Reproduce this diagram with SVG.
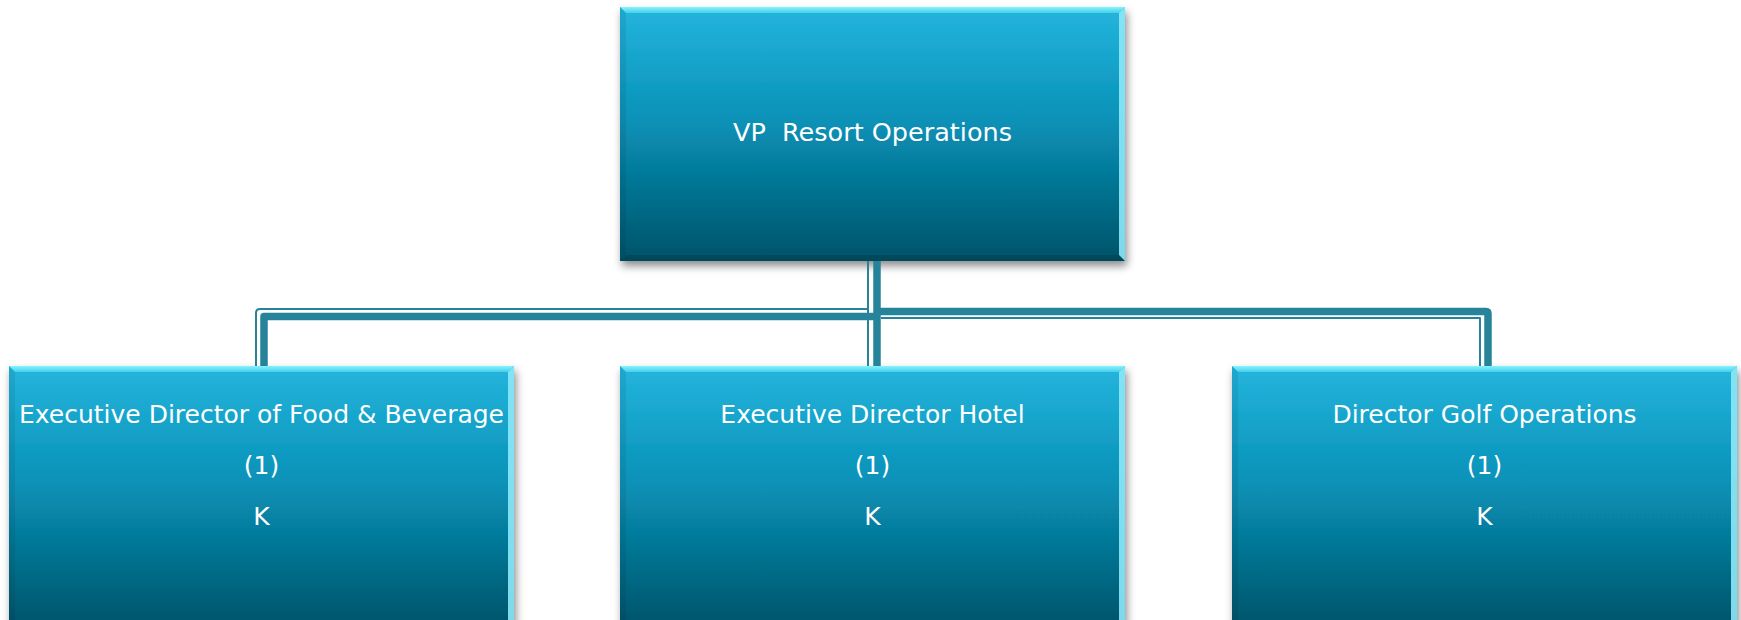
<svg xmlns="http://www.w3.org/2000/svg" width="1741" height="620" viewBox="0 0 1741 620">
  <style>
    .face { fill: url(#faceGrad); }
    .bt { fill: url(#topBevel); }
    .br { fill: #8ce9f8; opacity: 0.9; }
    .bb { fill: #000; opacity: 0.14; }
    .bl { fill: #000; opacity: 0.07; }
    .lbl { font-family: "DejaVu Sans", Verdana, sans-serif; font-size: 25px; fill: #ffffff; text-anchor: middle; }
    .thin { fill: none; stroke: #26839a; stroke-width: 2; stroke-linejoin: round; }
    .thick { fill: none; stroke: #26839a; stroke-width: 7.5; stroke-linejoin: round; }
  </style>
  <defs>
    <linearGradient id="faceGrad" x1="0" y1="0" x2="0" y2="1">
      <stop offset="0" stop-color="#24b5dd"/>
      <stop offset="0.45" stop-color="#0891b7"/>
      <stop offset="1" stop-color="#025369"/>
    </linearGradient>
    <linearGradient id="topBevel" x1="0" y1="0" x2="0" y2="1">
      <stop offset="0" stop-color="#86f4ff"/>
      <stop offset="1" stop-color="#48cdea"/>
    </linearGradient>
    <filter id="shadow" x="-5%" y="-5%" width="115%" height="120%">
      <feDropShadow dx="2" dy="5" stdDeviation="4" flood-color="#000" flood-opacity="0.45"/>
    </filter>
    <g id="box">
      <rect class="face" x="0" y="0" width="505" height="254" filter="url(#shadow)"/>
      <polygon class="bt" points="0,0 505,0 499,6 6,6"/>
      <polygon class="br" points="505,0 505,254 499,248 499,6"/>
      <polygon class="bb" points="0,254 505,254 499,248 6,248"/>
      <polygon class="bl" points="0,0 6,6 6,248 0,254"/>
    </g>
    <g id="boxLow">
      <rect class="face" x="0" y="0" width="505" height="262" filter="url(#shadow)"/>
      <polygon class="bt" points="0,0 505,0 499,6 6,6"/>
      <polygon class="br" points="505,0 505,262 499,256 499,6"/>
      <polygon class="bl" points="0,0 6,6 6,256 0,262"/>
    </g>
  </defs>

  <g id="node-vp" transform="translate(620,7)">
    <use href="#box"/>
    <text class="lbl" x="252.5" y="134" style="font-size:25.5px" xml:space="preserve">VP  Resort Operations</text>
  </g>

  <g id="node-fb" transform="translate(9,366)">
    <use href="#boxLow"/>
    <text class="lbl" x="252.5" y="57">Executive Director of Food &amp; Beverage</text>
    <text class="lbl" x="252.5" y="108">(1)</text>
    <text class="lbl" x="252.5" y="159">K</text>
  </g>

  <g id="node-hotel" transform="translate(620,366)">
    <use href="#boxLow"/>
    <text class="lbl" x="252.5" y="57">Executive Director Hotel</text>
    <text class="lbl" x="252.5" y="108">(1)</text>
    <text class="lbl" x="252.5" y="159">K</text>
  </g>

  <g id="node-golf" transform="translate(1232,366)">
    <use href="#boxLow"/>
    <text class="lbl" x="252.5" y="57">Director Golf Operations</text>
    <text class="lbl" x="252.5" y="108">(1)</text>
    <text class="lbl" x="252.5" y="159">K</text>
  </g>

  <g id="connectors">
    <path class="thin" d="M868,261 V366"/>
    <path class="thick" d="M877,261 V366"/>
    <path class="thin" d="M868,309 H260 Q256,309 256,313 V366"/>
    <path class="thick" d="M877,316.5 H264 V366"/>
    <path class="thick" d="M877,311.5 H1486 Q1488,311.5 1488,314 V366"/>
    <path class="thin" d="M881,318 H1480 V366"/>
  </g>
</svg>
